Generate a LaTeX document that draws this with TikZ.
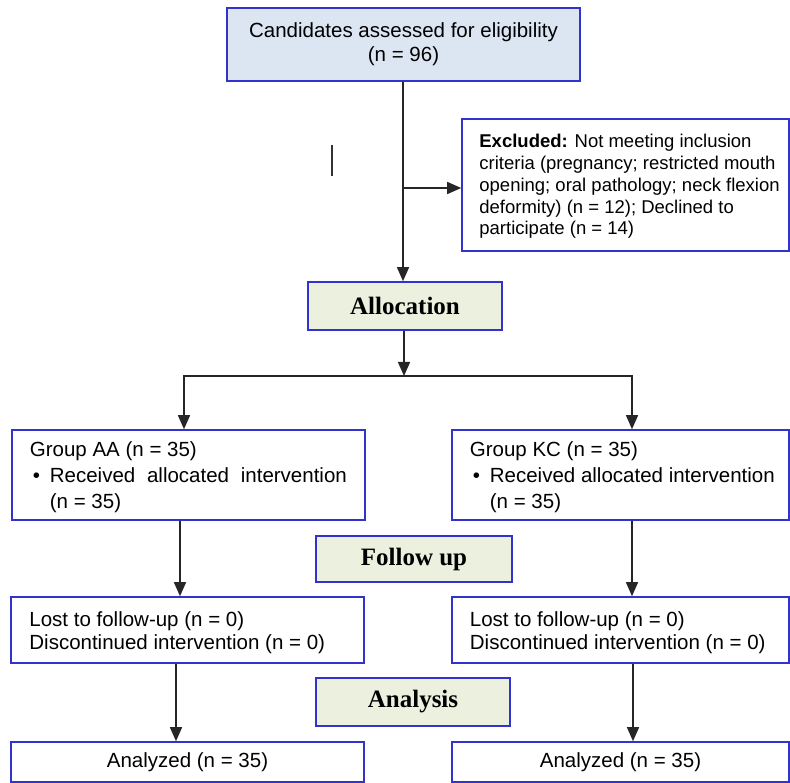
\documentclass[tikz,border=0pt]{standalone}
\usepackage{fontspec}
\setmainfont{Liberation Sans}
\newfontfamily\tnr{Liberation Serif}
\usetikzlibrary{arrows.meta}
\definecolor{bordblue}{RGB}{50,50,205}
\definecolor{topfill}{RGB}{220,230,242}
\definecolor{greenfill}{RGB}{235,241,222}
\begin{document}
\begin{tikzpicture}[x=1pt,y=-1pt,
  box/.style={draw=bordblue,line width=1.6pt,inner sep=0pt},
  txt/.style={inner sep=0pt,anchor=west,align=left},
  stage/.style={box,fill=greenfill,font=\tnr\bfseries\fontsize{25}{29}\selectfont},
  conn/.style={line width=1.4pt,draw=black!85},
  arr/.style={conn,-{Triangle[length=14pt,width=12pt]}}]
\useasboundingbox (0,0) rectangle (790,783);

% boxes
\node[box,fill=topfill,minimum width=353pt,minimum height=73pt,align=center,
  font=\fontsize{20.5}{24}\selectfont] (cand) at (403.5,44.5)
  {Candidates assessed for eligibility\\(n = 96)};

\node[box,minimum width=327pt,minimum height=132pt] (excl) at (625.5,185) {};
\node[txt,font=\fontsize{18.5}{21.8}\selectfont] (excltext) at ([xshift=18pt,yshift=-1.5pt]excl.west)
  {\textbf{Excluded:} Not meeting inclusion\\criteria (pregnancy; restricted mouth\\opening; oral pathology; neck flexion\\deformity) (n = 12); Declined to\\participate (n = 14)};

\node[stage,minimum width=194pt,minimum height=48pt] (alloc) at (405,306) {Allocation};

\node[box,minimum width=353pt,minimum height=90pt] (aa) at (188.5,475) {};
\node[txt,font=\fontsize{20.5}{26}\selectfont] (aatext) at ([xshift=18.5pt,yshift=-2.5pt]aa.west)
  {Group AA (n = 35)\\\makebox[20pt][l]{\hspace{3pt}•}\makebox[297pt][s]{Received allocated intervention}\\\hspace*{20pt}(n = 35)};

\node[box,minimum width=337pt,minimum height=90pt] (kc) at (620.5,475) {};
\node[txt,font=\fontsize{20.5}{26}\selectfont] (kctext) at ([xshift=18.5pt,yshift=-2.5pt]kc.west)
  {Group KC (n = 35)\\\makebox[20pt][l]{\hspace{3pt}•}Received allocated intervention\\\hspace*{20pt}(n = 35)};

\node[stage,minimum width=196pt,minimum height=46pt] (follow) at (414,559) {Follow up};

\node[box,minimum width=353pt,minimum height=66pt] (lostL) at (187.5,630) {};
\node[txt,font=\fontsize{20.5}{23}\selectfont] (lostLtext) at ([xshift=19pt,yshift=-2.5pt]lostL.west)
  {Lost to follow-up (n = 0)\\Discontinued intervention (n = 0)};

\node[box,minimum width=337pt,minimum height=66pt] (lostR) at (620.5,630) {};
\node[txt,font=\fontsize{20.5}{23}\selectfont] (lostRtext) at ([xshift=18.5pt,yshift=-2.5pt]lostR.west)
  {Lost to follow-up (n = 0)\\Discontinued intervention (n = 0)};

\node[stage,minimum width=194pt,minimum height=48pt] (analysis) at (413,702) {Analysis};

\node[box,minimum width=353pt,minimum height=40pt,font=\fontsize{20.5}{24}\selectfont]
  (anaL) at (187.5,762) {Analyzed (n = 35)};
\node[box,minimum width=337pt,minimum height=40pt,font=\fontsize{20.5}{24}\selectfont]
  (anaR) at (620.5,762) {Analyzed (n = 35)};

% helper coordinates
\coordinate (xc) at (403,0);
\coordinate (ey) at (0,188);
\coordinate (br) at (404,376);
\coordinate (bl) at (184,376);
\coordinate (brr) at (632,376);
\coordinate (l1) at (180,0);
\coordinate (r1) at (632,0);
\coordinate (l2) at (176,0);
\coordinate (r2) at (633,0);

% connectors
\draw[arr] (cand.south -| xc) -- (alloc.north -| xc);
\draw[arr] (xc |- ey) -- (excl.west |- ey);
\draw[arr] (alloc.south -| br) -- (br);
\draw[arr] (br) -| (aa.north -| bl);
\draw[arr] (br) -| (kc.north -| brr);
\draw[arr] (aa.south -| l1) -- (lostL.north -| l1);
\draw[arr] (kc.south -| r1) -- (lostR.north -| r1);
\draw[arr] (lostL.south -| l2) -- (anaL.north -| l2);
\draw[arr] (lostR.south -| r2) -- (anaR.north -| r2);

% stray mark
\draw[line width=1.2pt,black!80] (332,145) -- (332,176);
\end{tikzpicture}
\end{document}
